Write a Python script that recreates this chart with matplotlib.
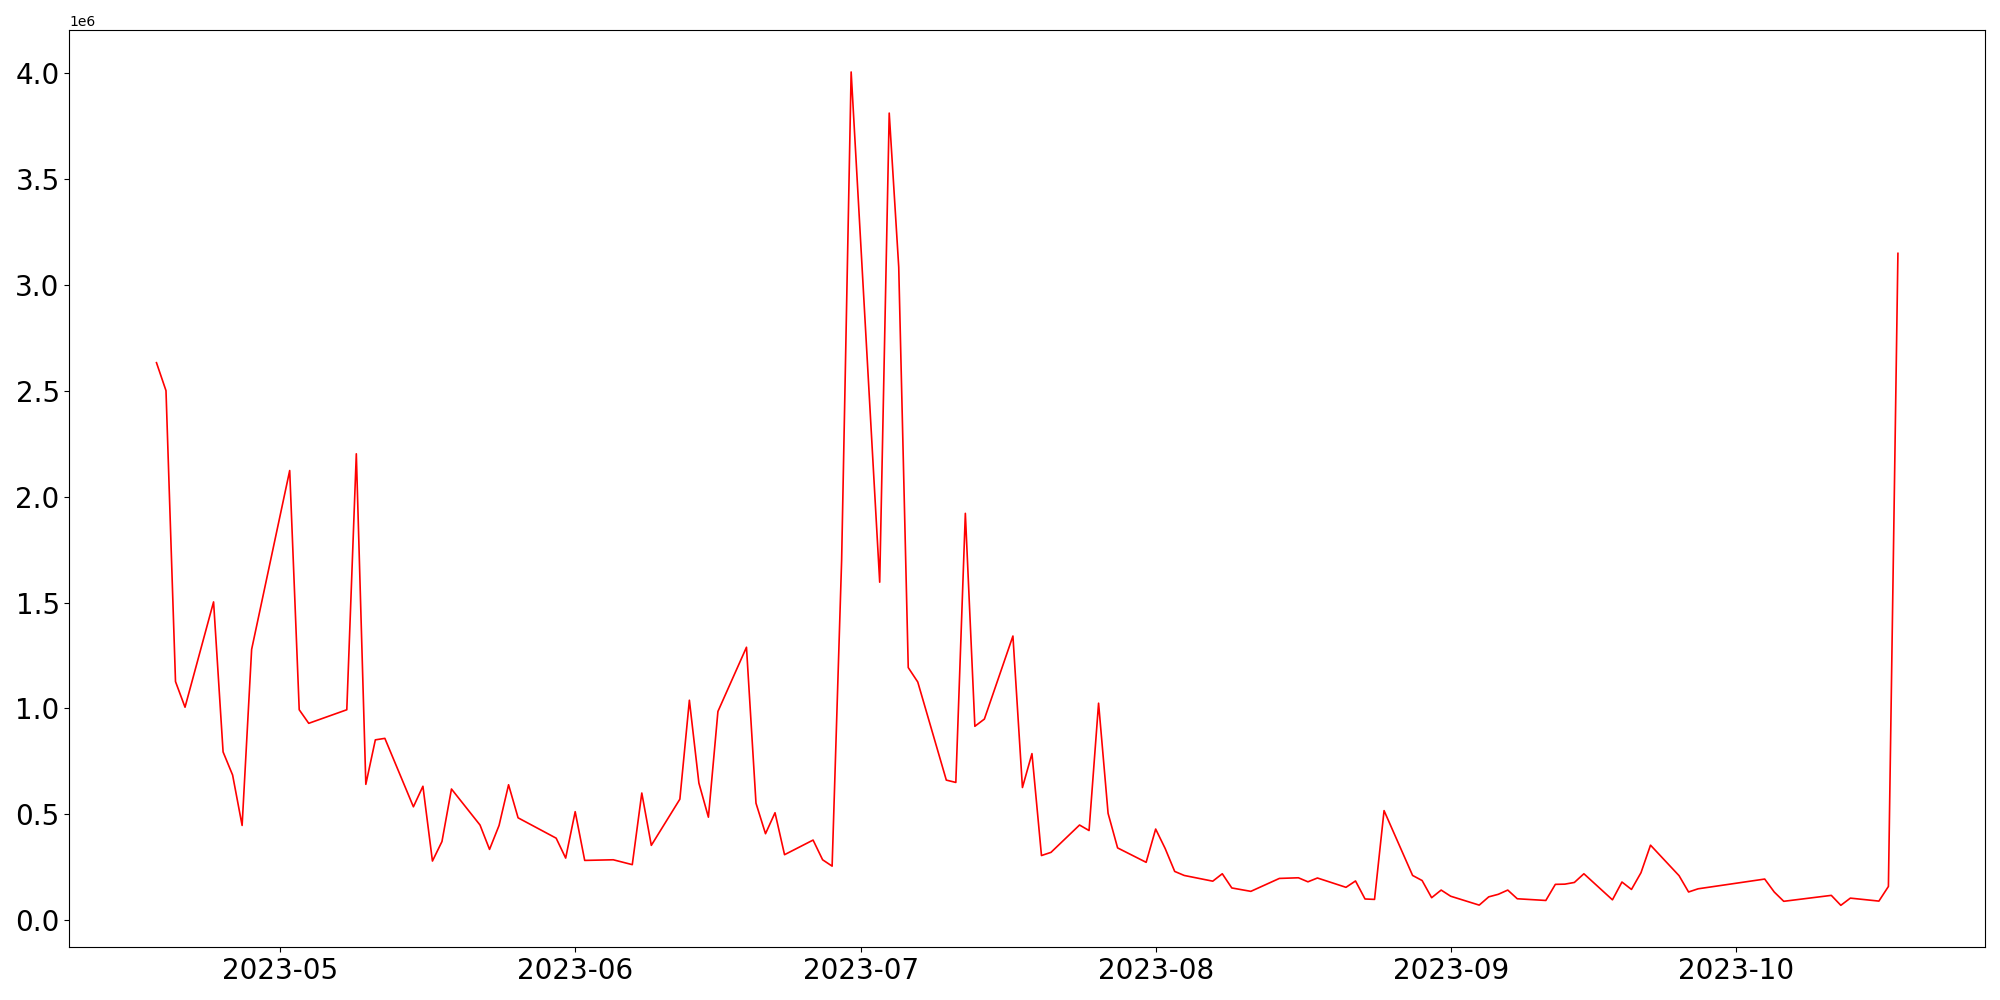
import pandas as pd
import matplotlib
matplotlib.use('Agg')
import matplotlib.pyplot as plt

# trading days shown in the chart
dates = [
    '2023-04-18', '2023-04-19', '2023-04-20', '2023-04-21', '2023-04-24', '2023-04-25',
    '2023-04-26', '2023-04-27', '2023-04-28', '2023-05-02', '2023-05-03', '2023-05-04',
    '2023-05-08', '2023-05-09', '2023-05-10', '2023-05-11', '2023-05-12', '2023-05-15',
    '2023-05-16', '2023-05-17', '2023-05-18', '2023-05-19', '2023-05-22', '2023-05-23',
    '2023-05-24', '2023-05-25', '2023-05-26', '2023-05-30', '2023-05-31', '2023-06-01',
    '2023-06-02', '2023-06-05', '2023-06-07', '2023-06-08', '2023-06-09', '2023-06-12',
    '2023-06-13', '2023-06-14', '2023-06-15', '2023-06-16', '2023-06-19', '2023-06-20',
    '2023-06-21', '2023-06-22', '2023-06-23', '2023-06-26', '2023-06-27', '2023-06-28',
    '2023-06-29', '2023-06-30', '2023-07-03', '2023-07-04', '2023-07-05', '2023-07-06',
    '2023-07-07', '2023-07-10', '2023-07-11', '2023-07-12', '2023-07-13', '2023-07-14',
    '2023-07-17', '2023-07-18', '2023-07-19', '2023-07-20', '2023-07-21', '2023-07-24',
    '2023-07-25', '2023-07-26', '2023-07-27', '2023-07-28', '2023-07-31', '2023-08-01',
    '2023-08-02', '2023-08-03', '2023-08-04', '2023-08-07', '2023-08-08', '2023-08-09',
    '2023-08-11', '2023-08-14', '2023-08-16', '2023-08-17', '2023-08-18', '2023-08-21',
    '2023-08-22', '2023-08-23', '2023-08-24', '2023-08-25', '2023-08-28', '2023-08-29',
    '2023-08-30', '2023-08-31', '2023-09-01', '2023-09-04', '2023-09-05', '2023-09-06',
    '2023-09-07', '2023-09-08', '2023-09-11', '2023-09-12', '2023-09-13', '2023-09-14',
    '2023-09-15', '2023-09-18', '2023-09-19', '2023-09-20', '2023-09-21', '2023-09-22',
    '2023-09-25', '2023-09-26', '2023-09-27', '2023-10-04', '2023-10-05', '2023-10-06',
    '2023-10-11', '2023-10-12', '2023-10-13', '2023-10-16', '2023-10-17', '2023-10-18',
]

# values in millions
values_m = [
    2.632, 2.500, 1.127, 1.006, 1.503, 0.795,
    0.686, 0.448, 1.279, 2.123, 0.994, 0.930,
    0.994, 2.202, 0.642, 0.852, 0.859, 0.536,
    0.633, 0.280, 0.372, 0.620, 0.450, 0.335,
    0.448, 0.640, 0.484, 0.388, 0.294, 0.513,
    0.283, 0.286, 0.263, 0.601, 0.354, 0.572,
    1.039, 0.648, 0.487, 0.986, 1.289, 0.553,
    0.409, 0.508, 0.310, 0.379, 0.286, 0.256,
    1.700, 4.004, 1.596, 3.810, 3.083, 1.193,
    1.125, 0.662, 0.651, 1.921, 0.916, 0.950,
    1.342, 0.627, 0.787, 0.306, 0.321, 0.450,
    0.424, 1.025, 0.505, 0.342, 0.274, 0.431,
    0.339, 0.231, 0.212, 0.185, 0.220, 0.153,
    0.137, 0.198, 0.201, 0.182, 0.200, 0.156,
    0.186, 0.101, 0.099, 0.518, 0.212, 0.188,
    0.107, 0.143, 0.114, 0.072, 0.111, 0.123,
    0.143, 0.102, 0.094, 0.170, 0.171, 0.179,
    0.220, 0.097, 0.181, 0.146, 0.225, 0.355,
    0.211, 0.134, 0.149, 0.195, 0.134, 0.090,
    0.118, 0.071, 0.105, 0.091, 0.160, 3.148,
]

x = pd.to_datetime(dates)
y = [v * 1e6 for v in values_m]

fig, ax = plt.subplots(figsize=(20, 10), dpi=100)
ax.plot(x, y, color='red', linewidth=1.2)
plt.xticks(fontsize=20)
plt.yticks(fontsize=20)
fig.subplots_adjust(left=0.0347, right=0.9925, top=0.9697, bottom=0.053)
fig.savefig('out.png', dpi=100)
